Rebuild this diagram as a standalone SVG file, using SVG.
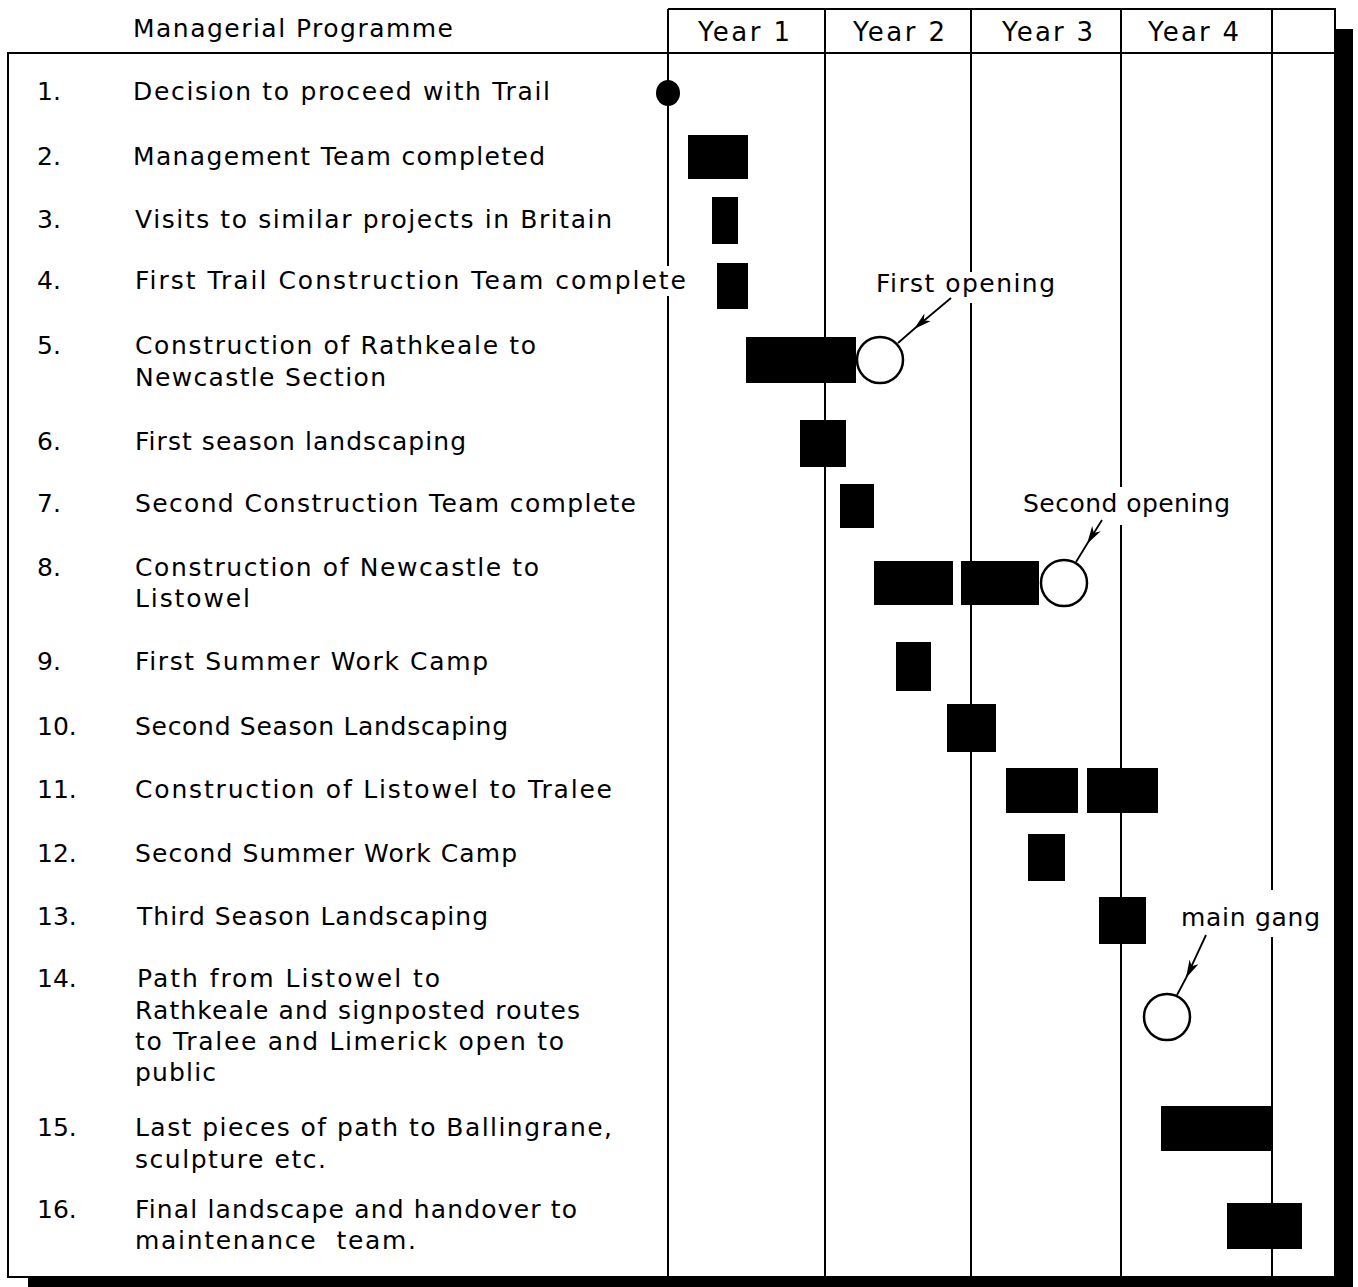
<svg xmlns="http://www.w3.org/2000/svg" width="1358" height="1287" viewBox="0 0 1358 1287">
<defs>
<style>
.t{font-family:"DejaVu Sans","Liberation Sans",sans-serif;font-size:25px;fill:#000}
.yr{font-family:"DejaVu Sans","Liberation Sans",sans-serif;font-size:26px;fill:#000}
.line{stroke:#000;stroke-width:2;fill:none}
.bar{fill:#000}
.open{fill:#fff;stroke:#000;stroke-width:2.5}
.conn{stroke:#000;stroke-width:1.8;fill:none}
</style>
<marker id="ah" viewBox="0 0 18 10" refX="18" refY="5" markerWidth="18" markerHeight="10" markerUnits="userSpaceOnUse" orient="auto">
<path d="M0,0 L18,5 L0,10 L5,5 z" fill="#000"/>
</marker>
</defs>
<rect width="1358" height="1287" fill="#fff"/>
<g id="frame">
<rect x="1336" y="29" width="17" height="1258" fill="#000"/>
<rect x="28" y="1277" width="1325" height="10" fill="#000"/>
<rect x="8" y="53" width="1327" height="1224" class="line"/>
<path class="line" d="M668,9 H1335 V53 M668,9 V266 M668,296 V1277 M825,9 V1277 M971,9 V272 M971,303 V1277 M1121,9 V487 M1121,525 V1277 M1272,9 V890 M1272,937 V1277"/>
</g>
<g id="header">
<text class="t" x="133" y="37" textLength="320" lengthAdjust="spacing">Managerial Programme</text>
<text class="yr" x="698" y="41" textLength="92" lengthAdjust="spacing">Year 1</text>
<text class="yr" x="853" y="41" textLength="92" lengthAdjust="spacing">Year 2</text>
<text class="yr" x="1002" y="41" textLength="91" lengthAdjust="spacing">Year 3</text>
<text class="yr" x="1148" y="41" textLength="91" lengthAdjust="spacing">Year 4</text>
</g>
<g id="task-1">
<text class="t" x="37" y="100">1.</text>
<text class="t" x="133" y="100" textLength="417" lengthAdjust="spacing">Decision to proceed with Trail</text>
<ellipse cx="668" cy="93" rx="12" ry="13" class="bar"/>
</g>
<g id="task-2">
<text class="t" x="37" y="165">2.</text>
<text class="t" x="133" y="165" textLength="412" lengthAdjust="spacing">Management Team completed</text>
<rect class="bar" x="688" y="135" width="60" height="44"/>
</g>
<g id="task-3">
<text class="t" x="37" y="228">3.</text>
<text class="t" x="135" y="228" textLength="477" lengthAdjust="spacing">Visits to similar projects in Britain</text>
<rect class="bar" x="712" y="197" width="26" height="47"/>
</g>
<g id="task-4">
<text class="t" x="37" y="289">4.</text>
<text class="t" x="135" y="289" textLength="551" lengthAdjust="spacing">First Trail Construction Team complete</text>
<rect class="bar" x="717" y="263" width="31" height="46"/>
</g>
<g id="task-5">
<text class="t" x="37" y="354">5.</text>
<text class="t" x="135" y="354" textLength="401" lengthAdjust="spacing">Construction of Rathkeale to</text>
<text class="t" x="135" y="386" textLength="251" lengthAdjust="spacing">Newcastle Section</text>
<rect class="bar" x="746" y="337" width="110" height="46"/>
<circle class="open" cx="880" cy="360" r="23"/>
<text class="t" x="876" y="292" textLength="179" lengthAdjust="spacing">First opening</text>
</g>
<g id="task-6">
<text class="t" x="37" y="450">6.</text>
<text class="t" x="135" y="450" textLength="331" lengthAdjust="spacing">First season landscaping</text>
<rect class="bar" x="800" y="420" width="46" height="47"/>
</g>
<g id="task-7">
<text class="t" x="37" y="512">7.</text>
<text class="t" x="135" y="512" textLength="501" lengthAdjust="spacing">Second Construction Team complete</text>
<rect class="bar" x="840" y="484" width="34" height="44"/>
</g>
<g id="task-8">
<text class="t" x="37" y="576">8.</text>
<text class="t" x="135" y="576" textLength="404" lengthAdjust="spacing">Construction of Newcastle to</text>
<text class="t" x="135" y="607" textLength="115" lengthAdjust="spacing">Listowel</text>
<rect class="bar" x="874" y="561" width="79" height="44"/>
<rect class="bar" x="961" y="561" width="78" height="44"/>
<circle class="open" cx="1064" cy="583" r="23"/>
<text class="t" x="1023" y="512" textLength="207" lengthAdjust="spacing">Second opening</text>
</g>
<g id="task-9">
<text class="t" x="37" y="670">9.</text>
<text class="t" x="135" y="670" textLength="353" lengthAdjust="spacing">First Summer Work Camp</text>
<rect class="bar" x="896" y="642" width="35" height="49"/>
</g>
<g id="task-10">
<text class="t" x="37" y="735">10.</text>
<text class="t" x="135" y="735" textLength="373" lengthAdjust="spacing">Second Season Landscaping</text>
<rect class="bar" x="947" y="704" width="49" height="48"/>
</g>
<g id="task-11">
<text class="t" x="37" y="798">11.</text>
<text class="t" x="135" y="798" textLength="477" lengthAdjust="spacing">Construction of Listowel to Tralee</text>
<rect class="bar" x="1006" y="768" width="72" height="45"/>
<rect class="bar" x="1087" y="768" width="71" height="45"/>
</g>
<g id="task-12">
<text class="t" x="37" y="862">12.</text>
<text class="t" x="135" y="862" textLength="382" lengthAdjust="spacing">Second Summer Work Camp</text>
<rect class="bar" x="1028" y="834" width="37" height="47"/>
</g>
<g id="task-13">
<text class="t" x="37" y="925">13.</text>
<text class="t" x="137" y="925" textLength="351" lengthAdjust="spacing">Third Season Landscaping</text>
<rect class="bar" x="1099" y="897" width="47" height="47"/>
</g>
<g id="task-14">
<text class="t" x="37" y="987">14.</text>
<text class="t" x="137" y="987" textLength="303" lengthAdjust="spacing">Path from Listowel to</text>
<text class="t" x="135" y="1019" textLength="445" lengthAdjust="spacing">Rathkeale and signposted routes</text>
<text class="t" x="135" y="1050" textLength="429" lengthAdjust="spacing">to Tralee and Limerick open to</text>
<text class="t" x="135" y="1081" textLength="81" lengthAdjust="spacing">public</text>
<circle class="open" cx="1167" cy="1017" r="23"/>
<text class="t" x="1181" y="926" textLength="139" lengthAdjust="spacing">main gang</text>
</g>
<g id="task-15">
<text class="t" x="37" y="1136">15.</text>
<text class="t" x="135" y="1136" textLength="477" lengthAdjust="spacing">Last pieces of path to Ballingrane,</text>
<text class="t" x="135" y="1168" textLength="191" lengthAdjust="spacing">sculpture etc.</text>
<rect class="bar" x="1161" y="1106" width="111" height="45"/>
</g>
<g id="task-16">
<text class="t" x="37" y="1218">16.</text>
<text class="t" x="135" y="1218" textLength="442" lengthAdjust="spacing">Final landscape and handover to</text>
<text class="t" x="135" y="1249" textLength="281" lengthAdjust="spacing" xml:space="preserve">maintenance  team.</text>
<rect class="bar" x="1227" y="1203" width="75" height="46"/>
</g>
<g id="connectors">
<path class="conn" marker-mid="url(#ah)" d="M951,298 L914,329 L898,343"/>
<path class="conn" marker-mid="url(#ah)" d="M1102,520 L1087,544 L1076,562"/>
<path class="conn" marker-mid="url(#ah)" d="M1206,935 L1186,978 L1177,995"/>
</g>
</svg>
